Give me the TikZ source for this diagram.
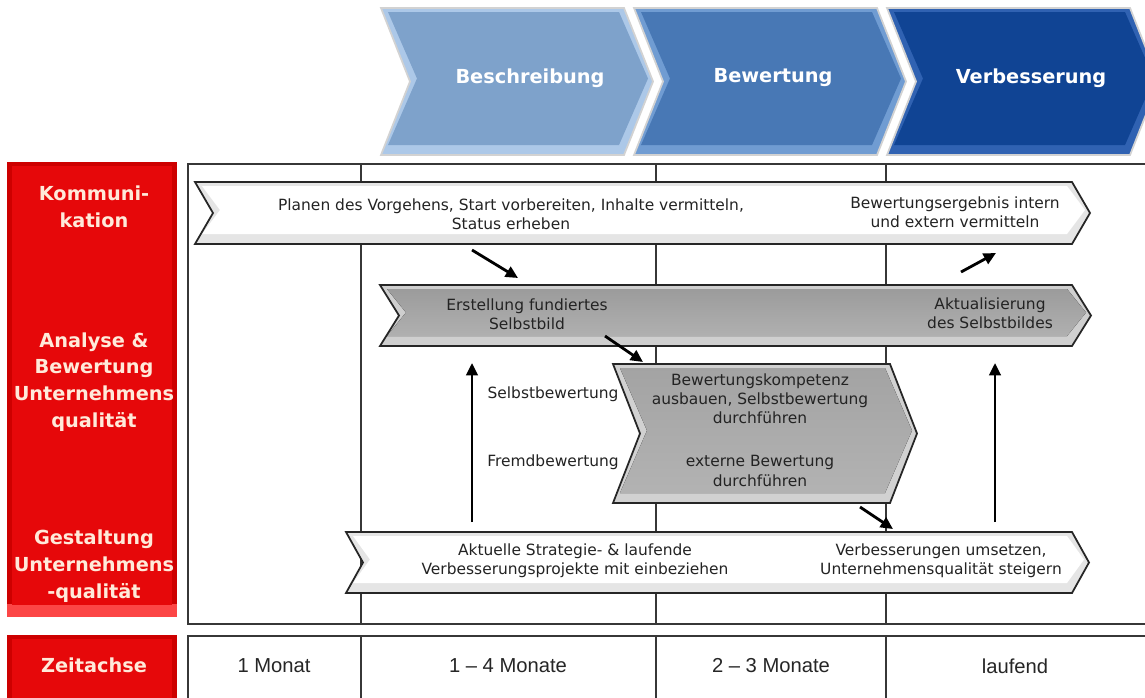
\documentclass[tikz,border=0pt]{standalone}
\usepackage{fontspec}
\setmainfont{DejaVu Sans}
\newfontfamily\timefont{Liberation Sans}
\usetikzlibrary{arrows.meta}
\definecolor{redlabel}{RGB}{230,8,10}
\definecolor{redbevel}{RGB}{205,0,0}
\definecolor{redlight}{RGB}{252,70,70}
\definecolor{redtext}{RGB}{255,234,218}
\definecolor{blueA}{RGB}{126,162,203}
\definecolor{blueAedge}{RGB}{172,200,232}
\definecolor{blueB}{RGB}{72,120,181}
\definecolor{blueBedge}{RGB}{112,156,210}
\definecolor{blueC}{RGB}{16,68,148}
\definecolor{blueCedge}{RGB}{48,98,178}
\definecolor{gridgray}{RGB}{55,55,55}
\definecolor{bodytext}{RGB}{35,35,35}

% outline of a chevron: left, top, right, bottom, depth of notch and tip
\newcommand{\chevshape}[5]{(#1,#2) -- (#3,#2) -- ({#3+#5},{(#2+#4)/2}) -- (#3,#4) -- (#1,#4) -- ({#1+#5},{(#2+#4)/2}) -- cycle}
% chevron with a bevel: ... , inner fill, bevel fill, outline style
\newcommand{\chevron}[8]{%
  \begin{scope}
    \clip \chevshape{#1}{#2}{#3}{#4}{#5};
    \fill[#7] ({#1-5},{#2-5}) rectangle ({#3+#5+5},{#4+5});
    \fill[#6] \chevshape{#1+7}{#2+4}{#3-5}{#4-10}{#5};
  \end{scope}
  \draw[#8] \chevshape{#1}{#2}{#3}{#4}{#5};}

\begin{document}
\begin{tikzpicture}[
    x=0.02cm, y=-0.02cm,
    gridln/.style={draw=gridgray, line width=0.8pt},
    chevline/.style={draw=black!85, line width=1pt},
    phaseline/.style={draw=gray!35, line width=1pt},
    redlbl/.style={font=\bfseries\fontsize{11}{15.3}\selectfont, text=redtext, align=center},
    phase/.style={font=\bfseries\fontsize{11}{13}\selectfont, text=white},
    txt/.style={font=\fontsize{8.8}{10.9}\selectfont, text=bodytext, align=center},
    zeit/.style={font=\timefont\fontsize{11.5}{14}\selectfont, text=black!85},
    arr/.style={-{Triangle[length=7pt,width=6.5pt]}, line width=1.6pt}
]
\useasboundingbox[fill=white] (0,0) rectangle (1145,697);

% table lines
\draw[gridln] (1150,164) -- (188,164) -- (188,624) -- (1150,624);
\draw[gridln] (1150,636) -- (188,636) -- (188,700);
\foreach \x in {361,656,886} {
  \draw[gridln] (\x,164) -- (\x,624);
  \draw[gridln] (\x,636) -- (\x,700);
}

% red row labels
\fill[redbevel] (7,162) rectangle (177,617);
\fill[redlight] (7,604) rectangle (177,617);
\fill[redlabel] (12,166) rectangle (172,605);
\fill[redbevel] (7,635) rectangle (177,705);
\fill[redlabel] (12,639) rectangle (172,705);
\node[redlbl] (komlbl) at (94,207) {Kommuni-\\kation};
\node[redlbl] (analbl) at (94,382) {Analyse \&\\Bewertung\\Unternehmens\\qualität};
\node[redlbl] (gestlbl) at (94,566) {Gestaltung\\Unternehmens\\-qualität};
\node[redlbl] (zeitlbl) at (94,665) {Zeitachse};

% phases
\foreach \x/\cx/\col/\edge/\name/\lbl in {381/530/blueA/blueAedge/besch/Beschreibung,
    634/773/blueB/blueBedge/bewert/Bewertung, 887/1031/blueC/blueCedge/verbes/Verbesserung} {
  \chevron{\x}{8}{\x+243}{155}{29}{\col}{\edge}{phaseline}
  \node[phase] (\name) at (\cx,78) {\lbl};
}

% process chevrons
\chevron{195}{182}{1072}{244}{18}{white}{gray!20}{chevline}
\chevron{380}{285}{1072}{346}{19}{top color=gray!78, bottom color=gray!62}{gray!38}{chevline}
\chevron{346}{532}{1072}{593}{17}{white}{gray!20}{chevline}
\chevron{613}{364}{890}{503}{27}{top color=gray!72, bottom color=gray!60}{gray!36}{chevline}

\node[txt] (plan) at (511,214) {Planen des Vorgehens, Start vorbereiten, Inhalte vermitteln,\\Status erheben};
\node[txt] (ergeb) at (955,212) {Bewertungsergebnis intern\\und extern vermitteln};
\node[txt] (erst) at (527,314) {Erstellung fundiertes\\Selbstbild};
\node[txt] (aktual) at (990,313) {Aktualisierung\\des Selbstbildes};
\node[txt] (selbst) at (553,394) {Selbstbewertung};
\node[txt] (fremd) at (553,462) {Fremdbewertung};
\node[txt] (kompet) at (760,399) {Bewertungskompetenz\\ausbauen, Selbstbewertung\\durchführen};
\node[txt] (extern) at (760,471) {externe Bewertung\\durchführen};
\node[txt] (strat) at (575,561) {Aktuelle Strategie- \& laufende\\Verbesserungsprojekte mit einbeziehen};
\node[txt] (umsetz) at (941,561) {Verbesserungen umsetzen,\\Unternehmensqualität steigern};

% time axis
\node[zeit] (t1) at (274,666) {1 Monat};
\node[zeit] (t2) at (508,666) {1 – 4 Monate};
\node[zeit] (t3) at (771,666) {2 – 3 Monate};
\node[zeit] (t4) at (1015,666) {laufend};

% arrows between the rows
\coordinate (komout) at (472,250);
\coordinate (erstin) at (518,278);
\coordinate (erstout) at (605,336);
\coordinate (kompin) at (643,362);
\coordinate (kompout) at (860,507);
\coordinate (umsin) at (893,529);
\coordinate (stratout) at (472,522);
\coordinate (erstbot) at (472,363);
\coordinate (umsout) at (995,522);
\coordinate (aktbot) at (995,363);
\coordinate (aktout) at (961,272);
\coordinate (ergin) at (996,253);
\draw[arr] (komout) -- (erstin);
\draw[arr] (erstout) -- (kompin);
\draw[arr] (kompout) -- (umsin);
\draw[arr] (stratout) -- (erstbot);
\draw[arr] (umsout) -- (aktbot);
\draw[arr] (aktout) -- (ergin);
\end{tikzpicture}
\end{document}
